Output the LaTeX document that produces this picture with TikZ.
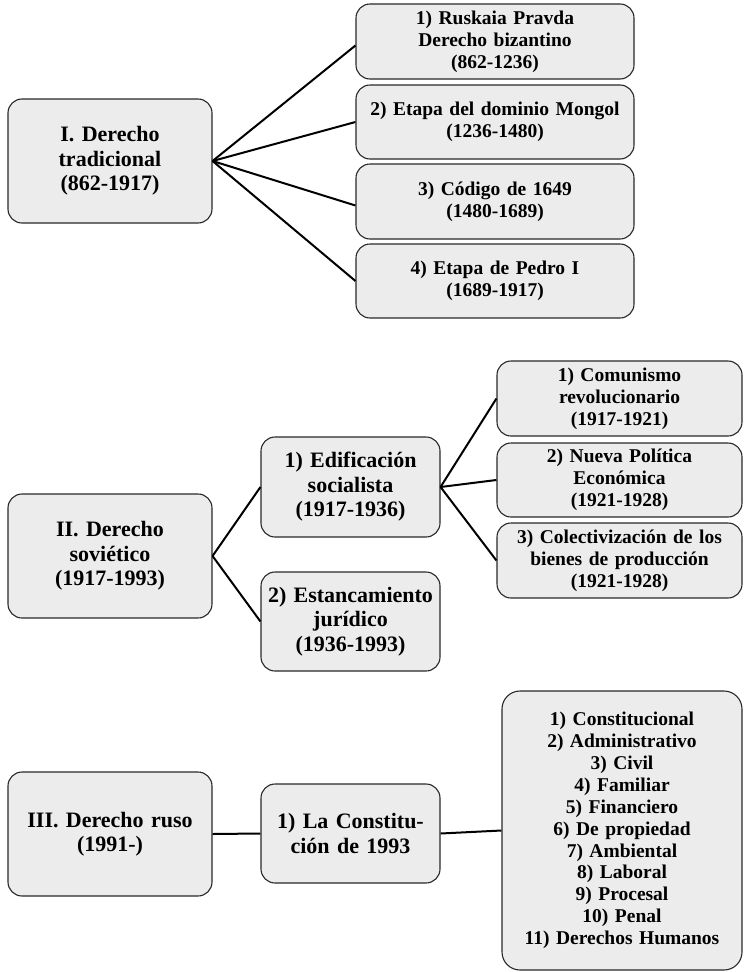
\documentclass[tikz,border=0pt]{standalone}
\usepackage{fontspec}
\setmainfont{Liberation Serif}
\definecolor{boxfill}{RGB}{236,236,236}
\definecolor{boxline}{RGB}{40,40,40}
\tikzset{
  box/.style={draw=boxline, fill=boxfill, line width=1.1pt, rounded corners=14pt, align=center, inner sep=0pt},
  big/.style={font=\bfseries\fontsize{22}{24.5}\selectfont},
  small/.style={font=\bfseries\fontsize{19.5}{21.9}\selectfont},
  lbox/.style={box, big, minimum width=204pt, text width=198pt, minimum height=124pt},
  mbox/.style={box, big, minimum width=179pt, text width=174pt, minimum height=99pt},
  tbox/.style={box, small, minimum width=278pt, text width=272pt, minimum height=75pt},
  rbox/.style={box, small, minimum width=245pt, text width=240pt, minimum height=75pt},
  conn/.style={line width=2pt, black}
}
\begin{document}
\begin{tikzpicture}[x=1pt, y=-1pt]
\useasboundingbox (0,0) rectangle (744,972);
% ---- Section I ----
\node[lbox] (I) at (110,161) {I. Derecho\\tradicional\\(862-1917)};
\node[tbox] (t1) at (495,41.5) {1) Ruskaia Pravda\\Derecho bizantino\\(862-1236)};
\node[tbox, minimum height=74pt] (t2) at (495,122) {2) Etapa del dominio Mongol\\(1236-1480)};
\node[tbox] (t3) at (495,201.5) {3) Código de 1649\\(1480-1689)};
\node[tbox, minimum height=74pt] (t4) at (495,281) {4) Etapa de Pedro I\\(1689-1917)};
\draw[conn] (I.east) -- ([yshift=-4pt]t1.west);
\draw[conn] (I.east) -- (t2.west);
\draw[conn] (I.east) -- ([yshift=-4pt]t3.west);
\draw[conn] (I.east) -- (t4.west);
% ---- Section II ----
\node[lbox] (II) at (110,556) {II. Derecho\\soviético\\(1917-1993)};
\node[mbox, minimum height=100pt] (E1) at (350.5,487) {1) Edificación\\socialista\\(1917-1936)};
\node[mbox] (E2) at (350.5,621.5) {2) Estancamiento\\jurídico\\(1936-1993)};
\node[rbox] (c1) at (619.5,398.5) {1) Comunismo\\revolucionario\\(1917-1921)};
\node[rbox, minimum height=74pt] (c2) at (619.5,480) {2) Nueva Política\\Económica\\(1921-1928)};
\node[rbox] (c3) at (619.5,560.5) {3) Colectivización de los\\bienes de producción\\(1921-1928)};
\draw[conn] (II.east) -- (E1.west);
\draw[conn] (II.east) -- (E2.west);
\foreach \c in {c1,c2,c3} \draw[conn] (E1.east) -- (\c.west);
% ---- Section III ----
\node[lbox] (III) at (110,834) {III. Derecho ruso\\(1991-)};
\node[mbox] (C) at (350.5,833.5) {1) La Constitu-\\ción de 1993};
\node[rbox, minimum width=240pt, text width=236pt, minimum height=279pt, rounded corners=18pt] (L) at (622,830.5)
  {1) Constitucional\\2) Administrativo\\3) Civil\\4) Familiar\\5) Financiero\\6) De propiedad\\7) Ambiental\\8) Laboral\\9) Procesal\\10) Penal\\11) Derechos Humanos};
\draw[conn] (III.east) -- (C.west);
\draw[conn] (C.east) -- (L.west);
\end{tikzpicture}
\end{document}
